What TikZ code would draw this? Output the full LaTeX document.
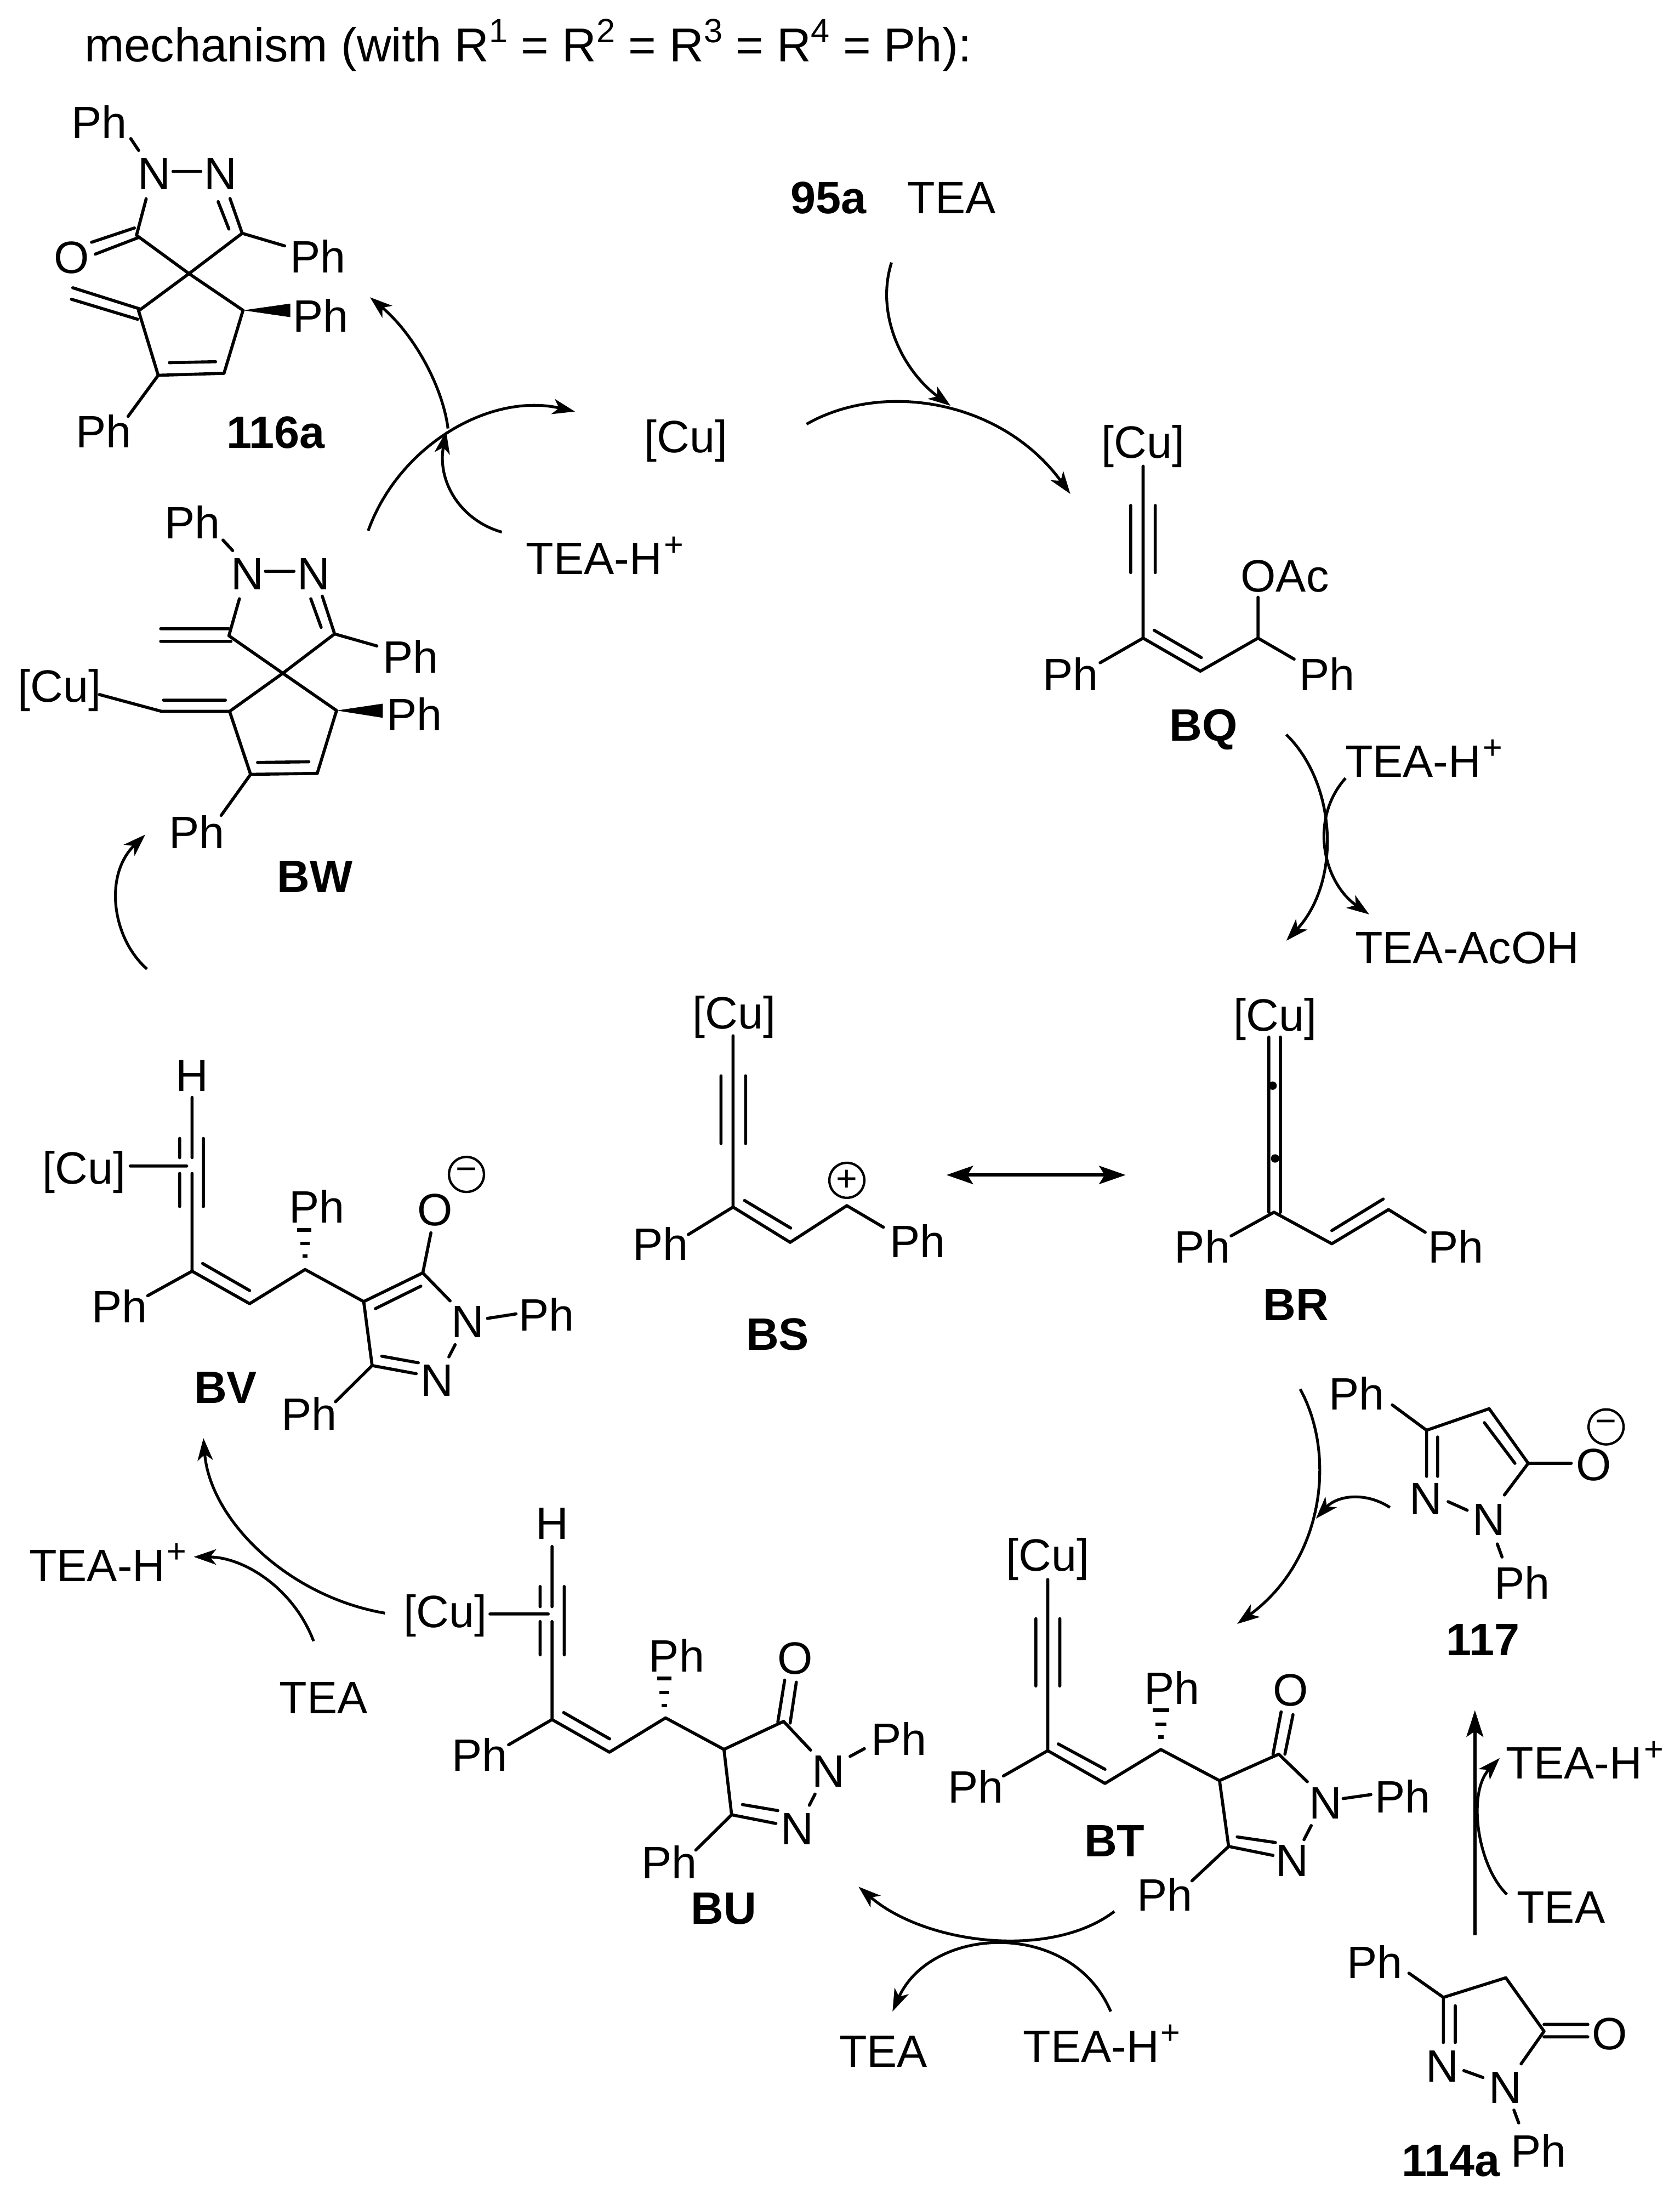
\documentclass[tikz,border=0pt]{standalone}
\usepackage{fontspec}
\setmainfont{Liberation Sans}
\usetikzlibrary{arrows.meta}
\newcommand{\cpt}[2]{\coordinate (#1) at (#2);}
\newcommand{\sups}[1]{\smash{\raisebox{.4em}{\fontsize{12}{12}\selectfont #1}}}
\newcommand{\TEAH}{TEA-H\kern.6pt\sups{+}}
\tikzset{
  bond/.style={line width=1.1pt,line cap=round,line join=round},
  hash/.style={line width=1.3pt},
  wedge/.style={fill=black,draw=none},
  arr/.style={line width=1pt,-{Stealth[length=8pt,width=5.5pt,inset=2.2pt]}},
  bigarr/.style={line width=1.25pt,-{Stealth[length=9.5pt,width=6pt,inset=2pt]}},
  dblarr/.style={line width=1.25pt,{Stealth[length=9.5pt,width=6.5pt,inset=2pt]}-{Stealth[length=9.5pt,width=6.5pt,inset=2pt]}},
  atom/.style={inner sep=0pt,font=\fontsize{16.2}{18}\selectfont},
  cmpd/.style={inner sep=0pt,font=\fontsize{16.2}{18}\selectfont\bfseries},
  charge/.style={circle,draw,line width=.85pt,inner sep=0pt,minimum size=12.5pt,font=\fontsize{13}{13}\selectfont},
}
\begin{document}
\begin{tikzpicture}[x=0.5pt,y=-0.5pt]
\useasboundingbox (0,0) rectangle (1200,1570.4);
\node[atom,anchor=base west,font=\fontsize{17}{20}\selectfont] (title) at (60,44) {mechanism (with R\sups{1} = R\sups{2} = R\sups{3} = R\sups{4} = Ph):};

% ---------- 116a
\node[atom] (aPh1) at (71,87) {Ph};
\node[atom] (aN1) at (110,124) {N};
\node[atom] (aN2) at (157.4,124) {N};
\node[atom] (aO) at (51,184) {O};
\node[atom] (aPh2) at (227,183) {Ph};
\node[atom] (aPh3) at (229,225.4) {Ph};
\node[atom] (aPh4) at (74,308) {Ph};
\node[cmpd] (aL) at (197,309) {116a};
\cpt{a1}{93.4,99}\cpt{a2}{99,107.4}\cpt{a3}{123.6,122.4}\cpt{a4}{143.4,122.4}
\cpt{a5}{104.4,142}\cpt{a6}{97.5,168}\cpt{a7}{65.4,173}\cpt{a8}{96,162.8}
\cpt{a9}{68,181.5}\cpt{a10}{99,169.6}\cpt{a11}{164.3,141.8}\cpt{a12}{173,166.6}
\cpt{a13}{155.8,144}\cpt{a14}{163.5,163.6}\cpt{a15}{203.3,175.6}\cpt{a16}{135,195.4}
\cpt{a17}{99,222}\cpt{a18}{173.6,221.6}\cpt{a19}{113,268}\cpt{a20}{160,266.6}
\cpt{a21}{121,259}\cpt{a22}{154,258.3}\cpt{a23}{91.5,297.3}
\cpt{a24}{52,205.5}\cpt{a25}{99.5,220.5}\cpt{a26}{51,213.7}\cpt{a27}{98.3,228}
\cpt{a28}{207.4,216.8}\cpt{a29}{207.4,226.5}
\draw[bond] (a1)--(a2) (a3)--(a4) (a5)--(a6) (a7)--(a8) (a9)--(a10) (a11)--(a12) (a13)--(a14)
  (a12)--(a15) (a6)--(a16) (a12)--(a16) (a16)--(a17) (a16)--(a18) (a17)--(a19) (a19)--(a20)
  (a20)--(a18) (a21)--(a22) (a19)--(a23) (a24)--(a25) (a26)--(a27);
\fill[wedge] (a18)--(a28)--(a29)--cycle;

% ---------- BW
\node[atom] (wPh1) at (137.4,373) {Ph};
\node[atom] (wN1) at (176.6,410) {N};
\node[atom] (wN2) at (224,410) {N};
\node[atom] (wPh2) at (293.4,468.8) {Ph};
\node[atom] (wPh3) at (296,510) {Ph};
\node[atom] (wPh4) at (140.7,594) {Ph};
\node[atom] (wCu) at (42.6,493) {[Cu]};
\node[cmpd] (wL) at (225,626) {BW};
\cpt{w1}{159.3,385.7}\cpt{w2}{166.2,393.2}\cpt{w3}{189.6,408}\cpt{w4}{210,408}
\cpt{w5}{171,427.6}\cpt{w6}{163.5,454}\cpt{w7}{239,452.7}\cpt{w8}{230.2,425.7}
\cpt{w9}{222,427.6}\cpt{w10}{229.4,448}\cpt{w11}{269.2,461.3}\cpt{w12}{202,480.8}
\cpt{w13}{164,508}\cpt{w14}{240.4,507.4}\cpt{w15}{179,553}\cpt{w16}{226.6,552.3}
\cpt{w17}{184,544.5}\cpt{w18}{220.6,544}\cpt{w19}{158,582.3}
\cpt{w20}{114.8,449}\cpt{w21}{163.5,449}\cpt{w22}{114.8,458}\cpt{w23}{165,458}
\cpt{w24}{71,496}\cpt{w25}{115.4,508}\cpt{w26}{116.8,500}\cpt{w27}{161,500}
\cpt{w28}{273.4,502.5}\cpt{w29}{273.4,512.6}
\draw[bond] (w1)--(w2) (w3)--(w4) (w5)--(w6) (w8)--(w7) (w9)--(w10) (w7)--(w11) (w6)--(w12)
  (w7)--(w12) (w12)--(w13) (w12)--(w14) (w13)--(w15) (w15)--(w16) (w16)--(w14) (w17)--(w18)
  (w15)--(w19) (w20)--(w21) (w22)--(w23) (w24)--(w25) (w25)--(w13) (w26)--(w27);
\fill[wedge] (w14)--(w28)--(w29)--cycle;

% ---------- BV
\node[atom] (vH) at (137.2,768) {H};
\node[atom] (vCu) at (60,837) {[Cu]};
\node[atom] (vO) at (310.8,864) {O};
\node[charge] (vm) at (333.2,838.7) {−};
\node[atom] (vPh1) at (85.4,932.8) {Ph};
\node[atom] (vPh2) at (226.3,861.6) {Ph};
\node[atom] (vPh3) at (390.5,938.5) {Ph};
\node[atom] (vPh4) at (220.9,1009.4) {Ph};
\node[atom] (vN1) at (334,944) {N};
\node[atom] (vN2) at (312.3,986) {N};
\node[cmpd] (vL) at (161.2,991) {BV};
\cpt{v1}{137.2,783.7}\cpt{v2}{137.2,826.7}\cpt{v3}{137.2,838}\cpt{v4}{137.2,907.8}
\cpt{v5}{128.3,813}\cpt{v6}{128.3,826.7}\cpt{v7}{128.3,838}\cpt{v8}{128.3,861.6}
\cpt{v9}{145.3,813}\cpt{v10}{145.3,861.6}\cpt{v11}{93,832.7}\cpt{v12}{133.4,832.7}
\cpt{v13}{105.5,925.3}\cpt{v14}{178.3,931}\cpt{v15}{144.7,902.3}\cpt{v16}{178.3,921.6}
\cpt{v17}{217.9,906.6}\cpt{v18}{259.8,929.5}\cpt{v19}{302,909}\cpt{v20}{268.2,934.5}
\cpt{v21}{300.6,918.5}\cpt{v22}{307.8,880.4}\cpt{v23}{321.5,929}\cpt{v24}{348.2,941.5}
\cpt{v25}{368.6,938.3}\cpt{v26}{325.1,960.3}\cpt{v27}{320.6,969}\cpt{v28}{265.8,975.2}
\cpt{v29}{297.3,981}\cpt{v30}{272.7,968.5}\cpt{v31}{298.8,973.2}\cpt{v32}{239.7,1001}
\draw[bond] (v1)--(v2) (v3)--(v4) (v5)--(v6) (v7)--(v8) (v9)--(v10) (v11)--(v12) (v13)--(v4)
  (v4)--(v14) (v15)--(v16) (v14)--(v17) (v17)--(v18) (v18)--(v19) (v20)--(v21) (v19)--(v22)
  (v19)--(v23) (v24)--(v25) (v26)--(v27) (v28)--(v29) (v30)--(v31) (v18)--(v28) (v28)--(v32);
\draw[hash] (212.3,878.4)--(222.3,878.4) (214.6,888)--(221.2,888) (216.1,897)--(219.7,897);

% ---------- BU
\node[atom] (uH) at (394.3,1088.2) {H};
\node[atom] (uCu) at (318,1154) {[Cu]};
\node[atom] (uPh1) at (342.7,1253) {Ph};
\node[atom] (uPh2) at (483.3,1182.3) {Ph};
\node[atom] (uPh3) at (642,1241.8) {Ph};
\node[atom] (uPh4) at (478,1329.7) {Ph};
\node[atom] (uO) at (568,1184.3) {O};
\node[atom] (uN1) at (591.9,1265) {N};
\node[atom] (uN2) at (569.3,1306.2) {N};
\node[cmpd] (uL) at (517.1,1363) {BU};
\cpt{u1}{394.3,1104.4}\cpt{u2}{394.3,1147.4}\cpt{u3}{394.3,1158}\cpt{u4}{394.3,1228}
\cpt{u5}{385.8,1133}\cpt{u6}{385.8,1147.4}\cpt{u7}{385.8,1158}\cpt{u8}{385.8,1181.8}
\cpt{u9}{403,1133}\cpt{u10}{403,1181.8}\cpt{u11}{350,1152.6}\cpt{u12}{391.6,1152.6}
\cpt{u13}{363.3,1246}\cpt{u14}{435.3,1251.3}\cpt{u15}{402.6,1223}\cpt{u16}{435.5,1241.8}
\cpt{u17}{475.4,1226.8}\cpt{u18}{517.1,1249.3}\cpt{u19}{559.7,1229.3}\cpt{u20}{555.6,1229.8}
\cpt{u21}{560.5,1199.8}\cpt{u22}{564.4,1230.5}\cpt{u23}{568.8,1201.3}\cpt{u24}{579,1249.8}
\cpt{u25}{607.2,1254.3}\cpt{u26}{617.4,1248.8}\cpt{u27}{582.2,1281.2}\cpt{u28}{578.1,1289.2}
\cpt{u29}{522.6,1296}\cpt{u30}{554.2,1302.2}\cpt{u31}{530.3,1288.7}\cpt{u32}{555.6,1293}
\cpt{u33}{497,1321.2}
\draw[bond] (u1)--(u2) (u3)--(u4) (u5)--(u6) (u7)--(u8) (u9)--(u10) (u11)--(u12) (u13)--(u4)
  (u4)--(u14) (u15)--(u16) (u14)--(u17) (u17)--(u18) (u18)--(u19) (u20)--(u21) (u22)--(u23)
  (u19)--(u24) (u25)--(u26) (u27)--(u28) (u29)--(u30) (u31)--(u32) (u18)--(u29) (u29)--(u33);
\draw[hash] (469.4,1198.6)--(479.8,1198.6) (471,1208.6)--(478.2,1208.6) (472.6,1218)--(476.6,1218);

% ---------- BT
\node[atom] (tCu) at (748.4,1113.5) {[Cu]};
\node[atom] (tPh1) at (697,1275.6) {Ph};
\node[atom] (tPh2) at (837,1205.2) {Ph};
\node[atom] (tPh3) at (1002,1282.8) {Ph};
\node[atom] (tPh4) at (832,1352.8) {Ph};
\node[atom] (tO) at (921.9,1207.2) {O};
\node[atom] (tN1) at (946.8,1287.6) {N};
\node[atom] (tN2) at (923,1329) {N};
\node[cmpd] (tL) at (796.1,1314.6) {BT};
\cpt{t1}{748.4,1128}\cpt{t2}{748.4,1250.2}\cpt{t3}{739.9,1156}\cpt{t4}{739.9,1204}
\cpt{t5}{757,1156}\cpt{t6}{757,1204}\cpt{t7}{716.7,1268.3}\cpt{t8}{789.3,1273.6}
\cpt{t9}{755.9,1245.4}\cpt{t10}{789.3,1263.5}\cpt{t11}{829.2,1249.4}\cpt{t12}{871.1,1271.6}
\cpt{t13}{913.4,1252.7}\cpt{t14}{909.3,1252.7}\cpt{t15}{915.1,1222.5}\cpt{t16}{917.8,1252.7}
\cpt{t17}{923.6,1224.5}\cpt{t18}{933.8,1272.4}\cpt{t19}{959.4,1284.4}\cpt{t20}{979.2,1281.6}
\cpt{t21}{936.6,1303.7}\cpt{t22}{931.4,1313.8}\cpt{t23}{877.6,1318.6}\cpt{t24}{909.3,1325}
\cpt{t25}{883.7,1311.8}\cpt{t26}{911,1315.8}\cpt{t27}{851.4,1343.2}
\draw[bond] (t1)--(t2) (t3)--(t4) (t5)--(t6) (t7)--(t2) (t2)--(t8) (t9)--(t10) (t8)--(t11)
  (t11)--(t12) (t12)--(t13) (t14)--(t15) (t16)--(t17) (t13)--(t18) (t19)--(t20) (t21)--(t22)
  (t23)--(t24) (t25)--(t26) (t12)--(t23) (t23)--(t27);
\draw[hash] (823.2,1221.3)--(835.2,1221.3) (825.2,1231.3)--(833.2,1231.3) (827.2,1240.6)--(831.2,1240.6);

% ---------- BS
\node[atom] (sCu) at (524.3,726.2) {[Cu]};
\node[atom] (sPh1) at (471.9,888.2) {Ph};
\node[atom] (sPh2) at (655.4,886.3) {Ph};
\node[charge] (sp) at (604.9,842.9) {+};
\node[cmpd] (sL) at (555.4,952.8) {BS};
\cpt{s1}{523.6,739.7}\cpt{s2}{523.6,862}\cpt{s3}{515,768.3}\cpt{s4}{515,816.6}
\cpt{s5}{532.6,768.3}\cpt{s6}{532.6,816.6}\cpt{s7}{491.7,881.6}\cpt{s8}{564.4,887.2}
\cpt{s9}{531.8,857.3}\cpt{s10}{564.8,877}\cpt{s11}{604.9,861}\cpt{s12}{631,876.4}
\draw[bond] (s1)--(s2) (s3)--(s4) (s5)--(s6) (s7)--(s2) (s2)--(s8) (s9)--(s10) (s8)--(s11) (s11)--(s12);

% ---------- BR
\node[atom] (rCu) at (910.8,727.7) {[Cu]};
\node[atom] (rPh1) at (858.8,890) {Ph};
\node[atom] (rPh2) at (1040,890) {Ph};
\node[cmpd] (rL) at (925.8,931.8) {BR};
\cpt{r1}{906.3,740.6}\cpt{r2}{906.3,865.7}\cpt{r3}{914.6,740.6}\cpt{r4}{914.6,865.7}
\cpt{r5}{879.4,882.6}\cpt{r6}{910,865.7}\cpt{r7}{951.3,888.2}\cpt{r8}{991.8,863.8}
\cpt{r9}{951.3,878.8}\cpt{r10}{988,856.3}\cpt{r11}{1018,880}
\draw[bond] (r1)--(r2) (r3)--(r4) (r5)--(r6) (r6)--(r7) (r7)--(r8) (r9)--(r10) (r8)--(r11);
\fill (909,775.3) circle (1.5pt) (910.8,827.3) circle (1.5pt);

% ---------- BQ
\node[atom] (qCu) at (816.5,318.6) {[Cu]};
\node[atom] (qPh1) at (764.5,481.5) {Ph};
\node[atom] (qPh2) at (948,481.5) {Ph};
\node[atom] (qOAc) at (917.7,411.5) {OAc};
\node[cmpd] (qL) at (859.6,521.2) {BQ};
\cpt{q1}{816.5,332.9}\cpt{q2}{816.5,455.7}\cpt{q3}{807.6,361}\cpt{q4}{807.6,408.9}
\cpt{q5}{825.2,361}\cpt{q6}{825.2,408.9}\cpt{q7}{785.8,473.3}\cpt{q8}{857.4,479.3}
\cpt{q9}{824.4,450.1}\cpt{q10}{858.1,469.6}\cpt{q11}{898.6,455.7}\cpt{q12}{898.6,426.5}
\cpt{q13}{924.4,470.7}
\draw[bond] (q1)--(q2) (q3)--(q4) (q5)--(q6) (q7)--(q2) (q2)--(q8) (q9)--(q10) (q8)--(q11)
  (q11)--(q12) (q11)--(q13);

% ---------- 117
\node[atom] (xPh1) at (969,995.2) {Ph};
\node[atom] (xN2) at (1018.4,1070.4) {N};
\node[atom] (xN1) at (1063.7,1085.3) {N};
\node[atom] (xO) at (1138.3,1046.3) {O};
\node[charge] (xm) at (1147.2,1019) {−};
\node[atom] (xPh2) at (1087.2,1130) {Ph};
\node[cmpd] (xL) at (1059.2,1171) {117};
\cpt{x1}{994.5,1003.3}\cpt{x2}{1019,1021.4}\cpt{x3}{1063.7,1006}\cpt{x4}{1091.6,1045}
\cpt{x5}{1060.3,1016}\cpt{x6}{1082.1,1045}\cpt{x7}{1122.3,1045}\cpt{x8}{1019,1054.3}
\cpt{x9}{1026.9,1026.2}\cpt{x10}{1026.9,1054.3}\cpt{x11}{1034.4,1072.4}\cpt{x12}{1048,1078.5}
\cpt{x13}{1074.6,1067.6}\cpt{x14}{1069.5,1102.6}\cpt{x15}{1072.9,1111.9}
\draw[bond] (x1)--(x2) (x2)--(x3) (x3)--(x4) (x5)--(x6) (x4)--(x7) (x2)--(x8) (x9)--(x10)
  (x11)--(x12) (x13)--(x4) (x14)--(x15);

% ---------- 114a
\node[atom] (yPh1) at (982,1401) {Ph};
\node[atom] (yN2) at (1030.3,1475.5) {N};
\node[atom] (yN1) at (1075.3,1490.8) {N};
\node[atom] (yO) at (1149.6,1452.6) {O};
\node[atom] (yPh2) at (1099.1,1535.8) {Ph};
\node[cmpd] (yL) at (1036.4,1543) {114a};
\cpt{y1}{1006.4,1409.1}\cpt{y2}{1031,1426.4}\cpt{y3}{1075.6,1412.4}\cpt{y4}{1102.9,1450.6}
\cpt{y5}{1102.9,1445.7}\cpt{y6}{1134.2,1445.7}\cpt{y7}{1102.9,1454.6}\cpt{y8}{1134.2,1454.6}
\cpt{y9}{1031,1458.6}\cpt{y10}{1039.5,1432.4}\cpt{y11}{1039.5,1458.6}\cpt{y12}{1045.6,1478.7}
\cpt{y13}{1059.3,1483.6}\cpt{y14}{1086.5,1473.9}\cpt{y15}{1081.4,1506.9}\cpt{y16}{1084.8,1516.1}
\draw[bond] (y1)--(y2) (y2)--(y3) (y3)--(y4) (y5)--(y6) (y7)--(y8) (y2)--(y9) (y10)--(y11)
  (y12)--(y13) (y14)--(y4) (y15)--(y16);

% ---------- reagents
\node[cmpd] (l95) at (591.8,141.5) {95a};
\node[atom] (tea1) at (679.8,141.5) {TEA};
\node[atom] (cu0) at (490,315) {[Cu]};
\node[atom] (teah1) at (432,399) {\TEAH};
\node[atom] (teah2) at (1017,544) {\TEAH};
\node[atom] (acoh) at (1048,677) {TEA-AcOH};
\node[atom] (teah3) at (77,1118) {\TEAH};
\node[atom] (tea2) at (231,1212.5) {TEA};
\node[atom] (teah4) at (787,1461.5) {\TEAH};
\node[atom] (tea3) at (631,1465) {TEA};
\node[atom] (teah5) at (1132,1259) {\TEAH};
\node[atom] (tea4) at (1115,1362) {TEA};

% ---------- arrows
\cpt{b1}{263,379}\cpt{b2}{410.7,293.9}
\cpt{b3}{358.5,380}\cpt{b4}{318.7,308}
\cpt{b5}{320,306}\cpt{b6}{264.3,212.3}
\cpt{b7}{105,692}\cpt{b8}{103.8,596}
\cpt{b9}{275,1152}\cpt{b10}{145.3,1027}
\cpt{b11}{224,1172}\cpt{b12}{138.4,1111.8}
\cpt{b13}{796,1365}\cpt{b14}{613.3,1347.4}
\cpt{b15}{793.4,1436.5}\cpt{b16}{637.5,1436.5}
\cpt{b17}{928.7,992}\cpt{b18}{883.7,1159.7}
\cpt{b19}{992.8,1076.5}\cpt{b20}{940,1084.5}
\cpt{b21}{1053.5,1382.2}\cpt{b22}{1053.5,1221.3}
\cpt{b23}{1076.3,1352.8}\cpt{b24}{1071.2,1255.5}
\cpt{b25}{636.8,187.5}\cpt{b26}{679,289.8}
\cpt{b27}{576.1,302.9}\cpt{b28}{764.5,352.7}
\cpt{b29}{918.8,524.6}\cpt{b30}{918.8,671.8}
\cpt{b31}{961.1,555.7}\cpt{b32}{978,653}
\cpt{b33}{676,839.1}\cpt{b34}{804.1,839.1}
\draw[arr] (b1) .. controls (285,318) and (350,280) .. (b2);
\draw[arr] (b3) .. controls (330,372) and (312,345) .. (b4);
\draw[arr] (b5) .. controls (316,275) and (295,238) .. (b6);
\draw[arr] (b7) .. controls (80,670) and (74,625) .. (b8);
\draw[arr] (b9) .. controls (205,1140) and (150,1085) .. (b10);
\draw[arr] (b11) .. controls (210,1135) and (175,1112) .. (b12);
\draw[arr] (b13) .. controls (750,1400) and (660,1388) .. (b14);
\draw[arr] (b15) .. controls (765,1370) and (665,1375) .. (b16);
\draw[arr] (b17) .. controls (955,1040) and (945,1115) .. (b18);
\draw[arr] (b19) .. controls (975,1065) and (955,1068) .. (b20);
\draw[bigarr] (b21) -- (b22);
\draw[arr] (b23) .. controls (1055,1332) and (1048,1280) .. (b24);
\draw[arr] (b25) .. controls (625,225) and (645,265) .. (b26);
\draw[arr] (b27) .. controls (630,272) and (715,285) .. (b28);
\draw[arr] (b29) .. controls (955,560) and (958,630) .. (b30);
\draw[arr] (b31) .. controls (935,585) and (945,630) .. (b32);
\draw[dblarr] (b33) -- (b34);
\end{tikzpicture}
\end{document}
